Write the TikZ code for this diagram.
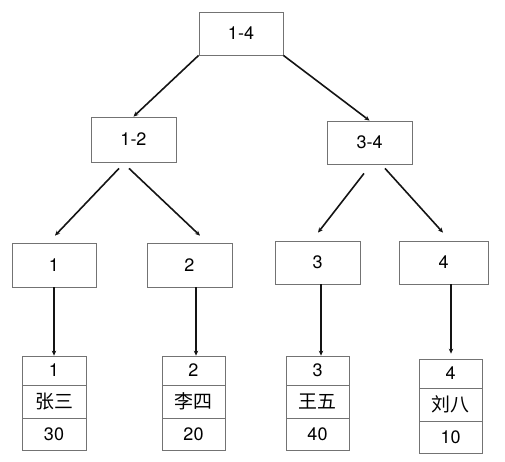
\documentclass[tikz,border=0pt]{standalone}
\usepackage{fontspec}
\setmainfont{TeX Gyre Heros}
\newfontfamily\cjk{Noto Sans CJK SC}[Scale=1.05]
\usetikzlibrary{arrows.meta,calc}
\begin{document}
\begin{tikzpicture}[x=1pt,y=-1pt,
  box/.style={draw=black!55,line width=0.8pt,minimum width=#1,inner sep=0pt,font=\fontsize{18}{21}\selectfont},
  box/.default=85pt,
  cell/.style={draw=black!55,line width=0.8pt,minimum width=64pt,inner sep=0pt,font=\fontsize{18}{21}\selectfont},
  arr/.style={draw=black!92,line width=1.6pt,-{Stealth[length=5pt,width=4.5pt]}}]
\useasboundingbox (0,0) rectangle (505,461);
% tree boxes
\node[box=84pt,minimum height=43pt] (n14) at (241,33.5) {1-4};
\node[box=85pt,minimum height=45pt] (n12) at (133.5,139.5) {1-2};
\node[box=85pt,minimum height=43pt] (n34) at (369.5,142.5) {3-4};
\node[box=84pt,minimum height=44pt] (l1) at (54,265) {1};
\node[box=85pt,minimum height=44pt] (l2) at (189.5,265) {2};
\node[box=85pt,minimum height=43pt] (l3) at (317.5,262.5) {3};
\node[box=89pt,minimum height=43pt] (l4) at (443.5,262.5) {4};
% tables
\node[cell,minimum height=29pt] (t1a) at (54,370.5) {1};
\node[cell,minimum height=33pt] (t1b) at (54,401.5) {\cjk 张三};
\node[cell,minimum height=32pt] (t1c) at (54,434) {30};
\node[cell,minimum width=63pt,minimum height=29pt] (t2a) at (193.5,370.5) {2};
\node[cell,minimum width=63pt,minimum height=33pt] (t2b) at (193.5,401.5) {\cjk 李四};
\node[cell,minimum width=63pt,minimum height=32pt] (t2c) at (193.5,434) {20};
\node[cell,minimum width=63pt,minimum height=29pt] (t3a) at (317.5,370.5) {3};
\node[cell,minimum width=63pt,minimum height=33pt] (t3b) at (317.5,401.5) {\cjk 王五};
\node[cell,minimum width=63pt,minimum height=32pt] (t3c) at (317.5,434) {40};
\node[cell,minimum width=63pt,minimum height=29pt] (t4a) at (450.5,373.5) {4};
\node[cell,minimum width=63pt,minimum height=33pt] (t4b) at (450.5,404.5) {\cjk 刘八};
\node[cell,minimum width=63pt,minimum height=32pt] (t4c) at (450.5,437) {10};
% connectors
\draw[arr] (n14.south west) -- (n12.north);
\draw[arr] (n14.south east) -- (n34.north);
\draw[arr] ($(n12.south)+(-14.5,6)$) -- ($(l1.north)+(1,-7)$);
\draw[arr] ($(n12.south)+(-4.5,6)$) -- ($(l2.north)+(10.5,-7)$);
\draw[arr] ($(n34.south)+(-5.5,9)$) -- ($(l3.north)+(0.5,-8)$);
\draw[arr] ($(n34.south)+(15.5,4)$) -- ($(l4.north)+(-0.5,-8)$);
\draw[arr] (l1.south) -- (t1a.north);
\draw[arr] ($(l2.south)+(6.5,0)$) -- ($(t2a.north)+(2.5,0)$);
\draw[arr] ($(l3.south)+(3.5,0)$) -- ($(t3a.north)+(3.5,0)$);
\draw[arr] ($(l4.south)+(7.5,0)$) -- ($(t4a.north)+(0.5,-5)$);
\end{tikzpicture}
\end{document}
